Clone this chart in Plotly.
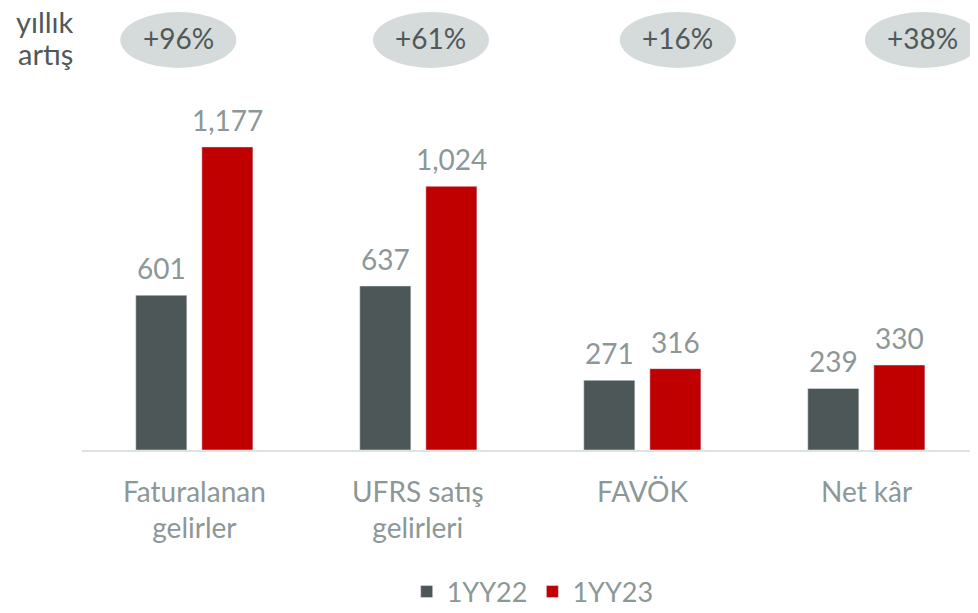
import plotly.graph_objects as go

categories = ["Faturalanan<br>gelirler", "UFRS satış<br>gelirleri", "FAVÖK", "Net kâr"]
series_names = ["1YY22", "1YY23"]
values_22 = [601, 637, 271, 239]
values_23 = [1177, 1024, 316, 330]
labels_22 = ["601", "637", "271", "239"]
labels_23 = ["1,177", "1,024", "316", "330"]
growth = ["+96%", "+61%", "+16%", "+38%"]

FONT = "Lato"
DARK = "#4e5758"
RED = "#c00000"
GRAY_TXT = "#8c9797"
DARK_TXT = "#505959"

BAR_W = 0.228
OFF_22 = -0.26
OFF_23 = 0.035
PH = 442  # plot height in px

idx = list(range(len(categories)))

fig = go.Figure()
fig.add_trace(go.Bar(name=series_names[0], x=idx, y=values_22, width=BAR_W,
                     offset=OFF_22, marker_color=DARK, hoverinfo="skip"))
fig.add_trace(go.Bar(name=series_names[1], x=idx, y=values_23, width=BAR_W,
                     offset=OFF_23, marker_color=RED, hoverinfo="skip"))

ann = []
for i in idx:
    ann.append(dict(x=i + OFF_22 + BAR_W / 2, y=values_22[i], xref="x", yref="y",
                    text=labels_22[i], showarrow=False, yanchor="bottom", yshift=8,
                    font=dict(family=FONT, size=28, color=GRAY_TXT)))
    ann.append(dict(x=i + OFF_23 + BAR_W / 2, y=values_23[i], xref="x", yref="y",
                    text=labels_23[i], showarrow=False, yanchor="bottom", yshift=8,
                    font=dict(family=FONT, size=28, color=GRAY_TXT)))
    ann.append(dict(x=i, y=0, xref="x", yref="paper", text=categories[i],
                    showarrow=False, yanchor="top", yshift=-22,
                    font=dict(family=FONT, size=28, color=GRAY_TXT)))

# growth ellipses
ell_dx = [-0.07, 0.058, 0.16, 0.254]
shapes = []
for i in idx:
    cx = i + ell_dx[i]
    shapes.append(dict(type="circle", xref="x", yref="paper",
                       x0=cx - 0.259, x1=cx + 0.259,
                       y0=1 - 60 / PH, y1=1 - 4 / PH,
                       fillcolor="#d5dada", line=dict(width=0), layer="below"))
    ann.append(dict(x=cx, y=1 - 30 / PH, xref="x", yref="paper", text=growth[i],
                    showarrow=False, xanchor="center", yanchor="middle",
                    font=dict(family=FONT, size=28, color=DARK_TXT)))

ann.append(dict(x=-0.041, y=1 - 13 / PH, xref="paper", yref="paper", text="yıllık",
                showarrow=False, xanchor="center", yanchor="middle", borderpad=0,
                font=dict(family=FONT, size=29, color=DARK_TXT)))
ann.append(dict(x=-0.041, y=1 - 46 / PH, xref="paper", yref="paper", text="artış",
                showarrow=False, xanchor="center", yanchor="middle", borderpad=0,
                font=dict(family=FONT, size=29, color=DARK_TXT)))

fig.update_layout(
    width=970, height=605,
    margin=dict(l=74, r=0, t=0, b=605 - PH, pad=0, autoexpand=False),
    plot_bgcolor="white", paper_bgcolor="white",
    showlegend=True,
    legend=dict(orientation="h", x=0.503, xanchor="center", y=(PH - 584) / PH,
                yanchor="middle",
                font=dict(family=FONT, size=27, color=GRAY_TXT), itemwidth=30,
                traceorder="normal"),
    xaxis=dict(range=[-0.5, 3.5], showticklabels=False, showgrid=False, zeroline=False,
               showline=True, linecolor="#dde2e2", linewidth=2, ticks=""),
    yaxis=dict(range=[0, PH / 0.2575], visible=False, showgrid=False, zeroline=False),
    annotations=ann,
    shapes=shapes,
)

fig.write_html("out.html")
